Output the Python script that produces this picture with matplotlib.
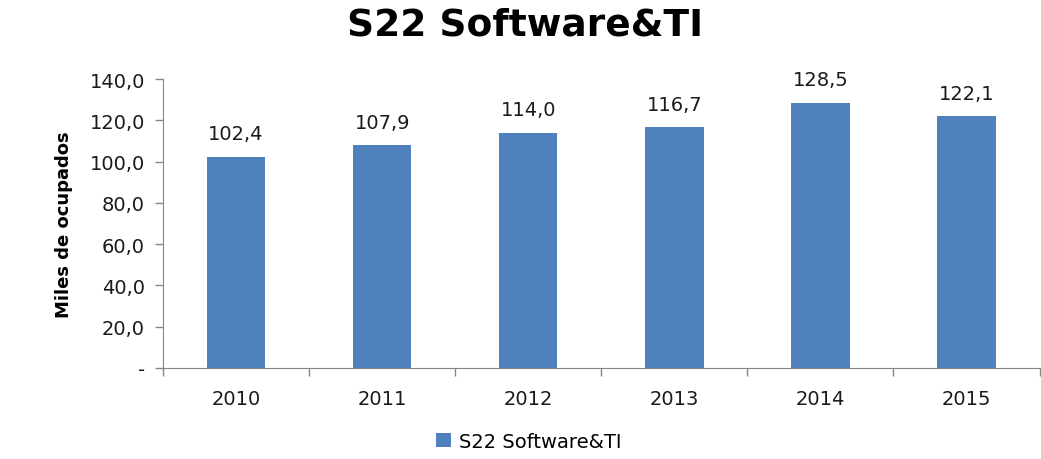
# S22 SOFTWARE&TI BAR CHART

import matplotlib.pyplot as plt
from matplotlib.ticker import FixedLocator, FuncFormatter

years = ["2010", "2011", "2012", "2013", "2014", "2015"]
ocupados = [102.4, 107.9, 114.0, 116.7, 128.5, 122.1]
serie = "S22 Software&TI"

def fmt_es(v, pos=None):
    if abs(v) < 1e-9:
        return "-"
    return f"{v:.1f}".replace(".", ",")

def plot_chart():
    fig = plt.figure(figsize=(10.41, 4.6), dpi=100)
    ax = fig.add_axes([0.1566, 0.198, 0.842, 0.628])
    x = range(len(years))
    bars = ax.bar(x, ocupados, width=0.4, color="#4F81BD", label=serie)
    for b, v in zip(bars, ocupados):
        ax.text(b.get_x() + b.get_width() / 2, v + 6.5, fmt_es(v),
                ha="center", va="bottom", fontsize=14, color="#1a1a1a")

    ax.set_xlim(-0.5, len(years) - 0.5)
    ax.set_ylim(0, 140)
    ax.set_yticks(range(0, 141, 20))
    ax.yaxis.set_major_formatter(FuncFormatter(fmt_es))
    ax.set_xticks(list(x))
    ax.set_xticklabels(years)
    ax.xaxis.set_minor_locator(FixedLocator([i - 0.5 for i in range(len(years) + 1)]))
    ax.tick_params(axis="x", which="major", length=0, pad=15, labelsize=14, labelcolor="#1a1a1a")
    ax.tick_params(axis="x", which="minor", length=6, width=1, color="#868686")
    ax.tick_params(axis="y", length=6, width=1, color="#868686", pad=7,
                   labelsize=14, labelcolor="#1a1a1a")

    for s in ["top", "right"]:
        ax.spines[s].set_visible(False)
    for s in ["left", "bottom"]:
        ax.spines[s].set_color("#868686")

    ax.set_ylabel("Miles de ocupados", fontsize=13, fontweight="bold", labelpad=12)
    fig.text(0.504, 0.945, serie, ha="center", va="center", fontsize=27, fontweight="bold")
    fig.legend(loc="lower center", bbox_to_anchor=(0.508, -0.02), frameon=False,
               fontsize=14, handlelength=0.75, handleheight=0.75, handletextpad=0.4)
    fig.savefig("out.png", dpi=100)

def main():
    plot_chart()

if __name__ == "__main__":
    main()
